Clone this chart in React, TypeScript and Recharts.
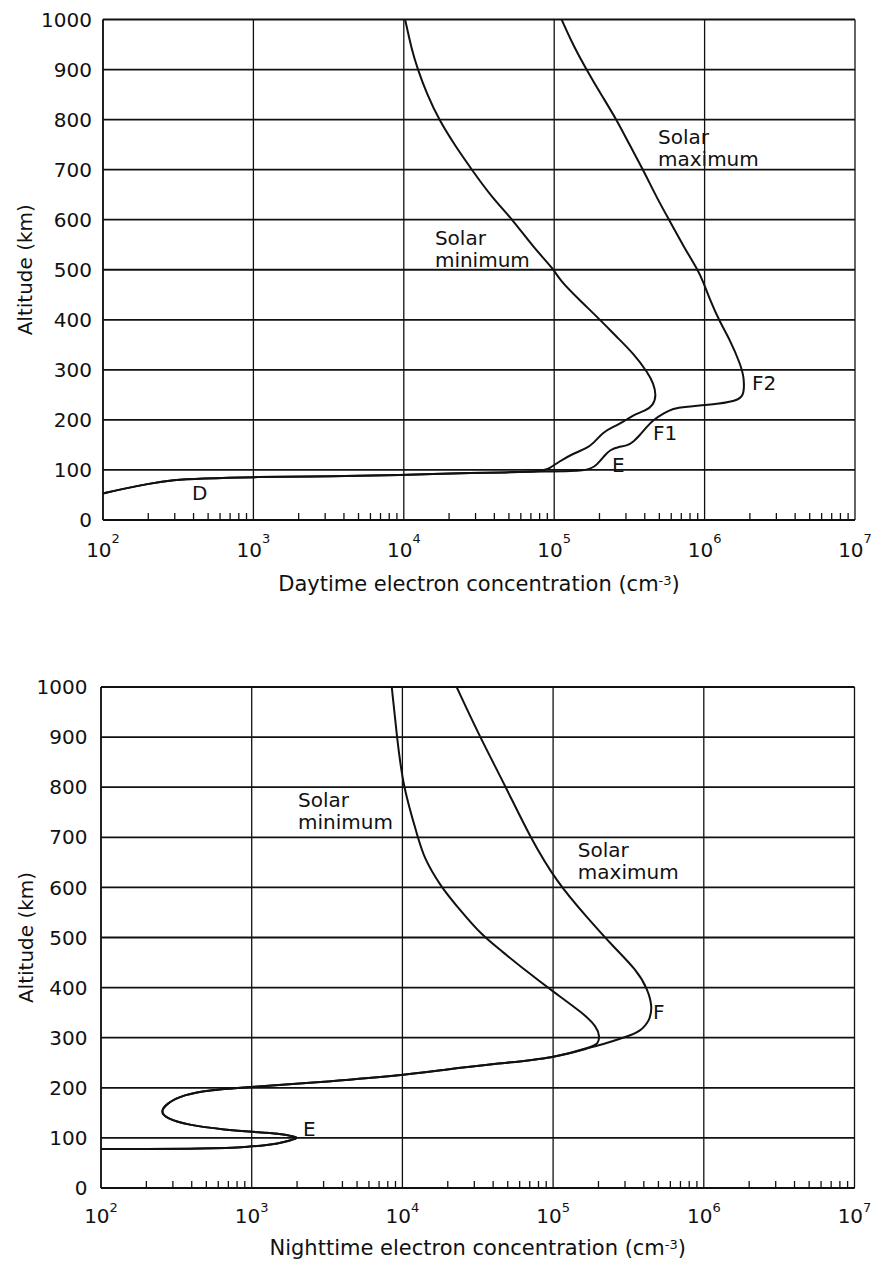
import React from 'react';
import { ScatterChart, Scatter, XAxis, YAxis, CartesianGrid, ReferenceLine, ReferenceDot } from 'recharts';

const FONT = '"DejaVu Sans", "Liberation Sans", sans-serif';
const INK = '#111';

// ---------- axis tick values ----------
const decades = [1e2, 1e3, 1e4, 1e5, 1e6, 1e7];
const decadeExponents = ['2', '3', '4', '5', '6', '7'];
const minorMultipliers = [2, 3, 4, 5, 6, 7, 8, 9];
const minorTicks = decades.slice(0, -1).flatMap((d) => minorMultipliers.map((m) => m * d));
const concTicks = [...decades, ...minorTicks].sort((a, b) => a - b);
const altitudeTicks = [0, 100, 200, 300, 400, 500, 600, 700, 800, 900, 1000];

// ---------- daytime profiles (n: electrons cm^-3, h: altitude km) ----------
const dayDRegion = [
  { n: 100, h: 53 }, { n: 130, h: 61 }, { n: 205, h: 73 }, { n: 292, h: 80 },
  { n: 441, h: 83 }, { n: 1000, h: 86 }, { n: 3400, h: 87 }, { n: 10000, h: 90 },
  { n: 20000, h: 93 }, { n: 50000, h: 95 }, { n: 83000, h: 97 },
];
const dayMinUpper = [
  { n: 94000, h: 104 }, { n: 107000, h: 116 }, { n: 134000, h: 133 }, { n: 164000, h: 143 },
  { n: 182000, h: 153 }, { n: 212000, h: 176 }, { n: 247000, h: 186 }, { n: 288000, h: 196 },
  { n: 336000, h: 210 }, { n: 402000, h: 218 }, { n: 456000, h: 229 }, { n: 478000, h: 250 },
  { n: 456000, h: 273 }, { n: 423000, h: 293 }, { n: 336000, h: 333 }, { n: 260000, h: 366 },
  { n: 202000, h: 400 }, { n: 148000, h: 439 }, { n: 109000, h: 479 }, { n: 100000, h: 500 },
  { n: 72600, h: 545 }, { n: 53000, h: 600 }, { n: 38400, h: 645 }, { n: 28300, h: 700 },
  { n: 21900, h: 748 }, { n: 17100, h: 800 }, { n: 14200, h: 852 }, { n: 12400, h: 900 },
  { n: 11300, h: 939 }, { n: 10200, h: 1000 },
];
const dayMaxUpper = [
  { n: 169000, h: 97 }, { n: 192000, h: 110 }, { n: 218000, h: 130 }, { n: 235000, h: 140 },
  { n: 267000, h: 146 }, { n: 303000, h: 148 }, { n: 336000, h: 156 }, { n: 372000, h: 170 },
  { n: 412000, h: 186 }, { n: 456000, h: 200 }, { n: 532000, h: 213 }, { n: 620000, h: 223 },
  { n: 720000, h: 226 }, { n: 1260000, h: 232 }, { n: 1720000, h: 240 }, { n: 1830000, h: 253 },
  { n: 1830000, h: 286 }, { n: 1720000, h: 313 }, { n: 1480000, h: 359 }, { n: 1260000, h: 396 },
  { n: 1090000, h: 439 }, { n: 970000, h: 479 }, { n: 900000, h: 500 }, { n: 730000, h: 545 },
  { n: 580000, h: 600 }, { n: 479000, h: 645 }, { n: 390000, h: 700 }, { n: 319000, h: 748 },
  { n: 260000, h: 800 }, { n: 207000, h: 848 }, { n: 164000, h: 900 }, { n: 134000, h: 948 },
  { n: 112000, h: 1000 },
];
const daySolarMin = [...dayDRegion, ...dayMinUpper];
const daySolarMax = [...dayDRegion, ...dayMaxUpper];

// ---------- nighttime profiles ----------
const nightMinUpper = [
  { n: 8500, h: 1000 }, { n: 9200, h: 900 }, { n: 10100, h: 800 }, { n: 12700, h: 700 },
  { n: 13800, h: 661 }, { n: 17800, h: 603 }, { n: 24100, h: 555 }, { n: 33500, h: 505 },
  { n: 46000, h: 472 }, { n: 65000, h: 435 }, { n: 100000, h: 392 }, { n: 158000, h: 349 },
  { n: 195000, h: 322 }, { n: 204000, h: 302 }, { n: 199000, h: 289 },
];
const nightMaxUpper = [
  { n: 22900, h: 1000 }, { n: 32700, h: 900 }, { n: 48700, h: 800 }, { n: 70300, h: 700 },
  { n: 106000, h: 610 }, { n: 167000, h: 541 }, { n: 250000, h: 482 }, { n: 359000, h: 435 },
  { n: 427000, h: 395 }, { n: 455000, h: 362 }, { n: 440000, h: 335 }, { n: 378000, h: 312 },
  { n: 308000, h: 302 }, { n: 205000, h: 285 },
];
const nightLower = [
  { n: 184000, h: 282 }, { n: 100000, h: 259 }, { n: 44000, h: 249 }, { n: 17800, h: 235 },
  { n: 10000, h: 225 }, { n: 2500, h: 210 }, { n: 1000, h: 202 }, { n: 528, h: 196 },
  { n: 351, h: 186 }, { n: 273, h: 169 }, { n: 247, h: 152 }, { n: 273, h: 139 },
  { n: 370, h: 126 }, { n: 682, h: 116 }, { n: 1000, h: 112 }, { n: 1540, h: 109 },
  { n: 1890, h: 103 }, { n: 2040, h: 100 }, { n: 1840, h: 96 }, { n: 1540, h: 89 },
  { n: 1000, h: 82 }, { n: 454, h: 78 }, { n: 196, h: 78 }, { n: 100, h: 78 },
];
const nightSolarMin = [...nightMinUpper, ...nightLower];
const nightSolarMax = [...nightMaxUpper, ...nightLower];

// ---------- annotations ----------
const dayNotes = [
  { n: 490000, h: 752, lines: ['Solar', 'maximum'] },
  { n: 16100, h: 549, lines: ['Solar', 'minimum'] },
  { n: 391, h: 40, lines: ['D'] },
  { n: 242000, h: 96, lines: ['E'] },
  { n: 454000, h: 160, lines: ['F1'] },
  { n: 2070000, h: 259, lines: ['F2'] },
];
const nightNotes = [
  { n: 2030, h: 760, lines: ['Solar', 'minimum'] },
  { n: 146000, h: 661, lines: ['Solar', 'maximum'] },
  { n: 2190, h: 104, lines: ['E'] },
  { n: 460000, h: 337, lines: ['F'] },
];

const noShape = () => <g />;

function BottomTick(p: any) {
  const { x, y, payload, tickBaseline, expRaise } = p;
  const v = payload.value;
  const di = decades.indexOf(v);
  if (di < 0) {
    return <line x1={x} x2={x} y1={y} y2={y - 7} stroke={INK} strokeWidth={1.3} />;
  }
  return (
    <text x={x} y={y + tickBaseline} textAnchor="middle" fontFamily={FONT} fontSize={20} fill={INK}>
      10<tspan dy={-expRaise} fontSize={13}>{decadeExponents[di]}</tspan>
    </text>
  );
}

function TopTick(p: any) {
  const { x, y, payload } = p;
  if (decades.indexOf(payload.value) >= 0) return <g />;
  return <line x1={x} x2={x} y1={y} y2={y + 7} stroke={INK} strokeWidth={1.3} />;
}

function XTitle(p: any) {
  const { viewBox, word, titleBaseline } = p;
  const { x, y, width } = viewBox;
  return (
    <text x={x + width / 2} y={y + titleBaseline} textAnchor="middle" fontFamily={FONT} fontSize={21} fill={INK}>
      {word} electron concentration (cm<tspan dy={-6} fontSize={13}>-3</tspan><tspan dy={6}>)</tspan>
    </text>
  );
}

function YTitle(p: any) {
  const { viewBox, titleX } = p;
  const cx = viewBox.x + titleX;
  const cy = viewBox.y + viewBox.height / 2;
  return (
    <text x={cx} y={cy} transform={`rotate(-90 ${cx} ${cy})`} textAnchor="middle" fontFamily={FONT} fontSize={20} fill={INK}>
      Altitude (km)
    </text>
  );
}

function NoteText(p: any) {
  const { viewBox, lines } = p;
  return (
    <text x={viewBox.x} y={viewBox.y} fontFamily={FONT} fontSize={20} fill={INK}>
      {lines.map((l: string, i: number) => (
        <tspan key={i} x={viewBox.x} dy={i === 0 ? 0 : 22}>{l}</tspan>
      ))}
    </text>
  );
}

function ProfileChart(props: any) {
  const {
    top, height, yAxisWidth, marginTop, marginRight, bottomAxisHeight,
    seriesMin, seriesMax, notes, word, tickBaseline, expRaise, titleBaseline, yTickGap, yTitleX,
  } = props;
  const axisLine = { stroke: INK, strokeWidth: 1.6 };
  return (
    <div style={{ position: 'absolute', left: 0, top }}>
      <ScatterChart width={875} height={height} margin={{ top: marginTop, right: marginRight, bottom: 0, left: 0 }}>
        <CartesianGrid vertical={false} stroke={INK} strokeWidth={1.8} />
        <XAxis
          type="number" dataKey="n" scale="log" domain={[1e2, 1e7]} allowDataOverflow
          ticks={concTicks} interval={0} height={bottomAxisHeight} tickSize={0} tickMargin={0}
          tickLine={false} axisLine={axisLine}
          tick={(p: any) => <BottomTick {...p} tickBaseline={tickBaseline} expRaise={expRaise} />}
          label={(p: any) => <XTitle {...p} word={word} titleBaseline={titleBaseline} />}
        />
        <XAxis
          xAxisId="top" orientation="top" type="number" dataKey="n" scale="log" domain={[1e2, 1e7]}
          allowDataOverflow ticks={concTicks} interval={0} height={0} tickSize={0} tickMargin={0}
          tickLine={false} axisLine={axisLine} tick={(p: any) => <TopTick {...p} />}
        />
        <YAxis
          type="number" dataKey="h" domain={[0, 1000]} ticks={altitudeTicks} interval={0}
          width={yAxisWidth} tickSize={0} tickMargin={yTickGap} tickLine={false} axisLine={axisLine}
          tick={{ fill: INK, fontSize: 20, fontFamily: FONT }}
          label={(p: any) => <YTitle {...p} titleX={yTitleX} />}
        />
        {decades.map((d) => (
          <ReferenceLine key={d} x={d} stroke={INK} strokeWidth={1.3} ifOverflow="visible" />
        ))}
        <Scatter
          data={seriesMin} fill={INK} shape={noShape} isAnimationActive={false}
          line={{ stroke: INK, strokeWidth: 2 }} lineType="joint" lineJointType="basis"
        />
        <Scatter
          data={seriesMax} fill={INK} shape={noShape} isAnimationActive={false}
          line={{ stroke: INK, strokeWidth: 2 }} lineType="joint" lineJointType="basis"
        />
        {notes.map((note: any, i: number) => (
          <ReferenceDot
            key={i} x={note.n} y={note.h} r={0} fill="none" stroke="none" ifOverflow="visible"
            label={(p: any) => <NoteText {...p} lines={note.lines} />}
          />
        ))}
      </ScatterChart>
    </div>
  );
}

export default function App() {
  return (
    <div style={{ position: 'absolute', left: 0, top: 0, width: 875, height: 1263, background: '#fff' }}>
      <ProfileChart
        top={0} height={630} yAxisWidth={103} marginTop={19.5} marginRight={20} bottomAxisHeight={110}
        seriesMin={daySolarMin} seriesMax={daySolarMax} notes={dayNotes} word="Daytime"
        tickBaseline={37} expRaise={14} titleBaseline={71} yTickGap={11} yTitleX={32}
      />
      <ProfileChart
        top={630} height={633} yAxisWidth={101} marginTop={57} marginRight={20.5} bottomAxisHeight={75}
        seriesMin={nightSolarMin} seriesMax={nightSolarMax} notes={nightNotes} word="Nighttime"
        tickBaseline={35} expRaise={11} titleBaseline={67} yTickGap={13.5} yTitleX={33}
      />
    </div>
  );
}
